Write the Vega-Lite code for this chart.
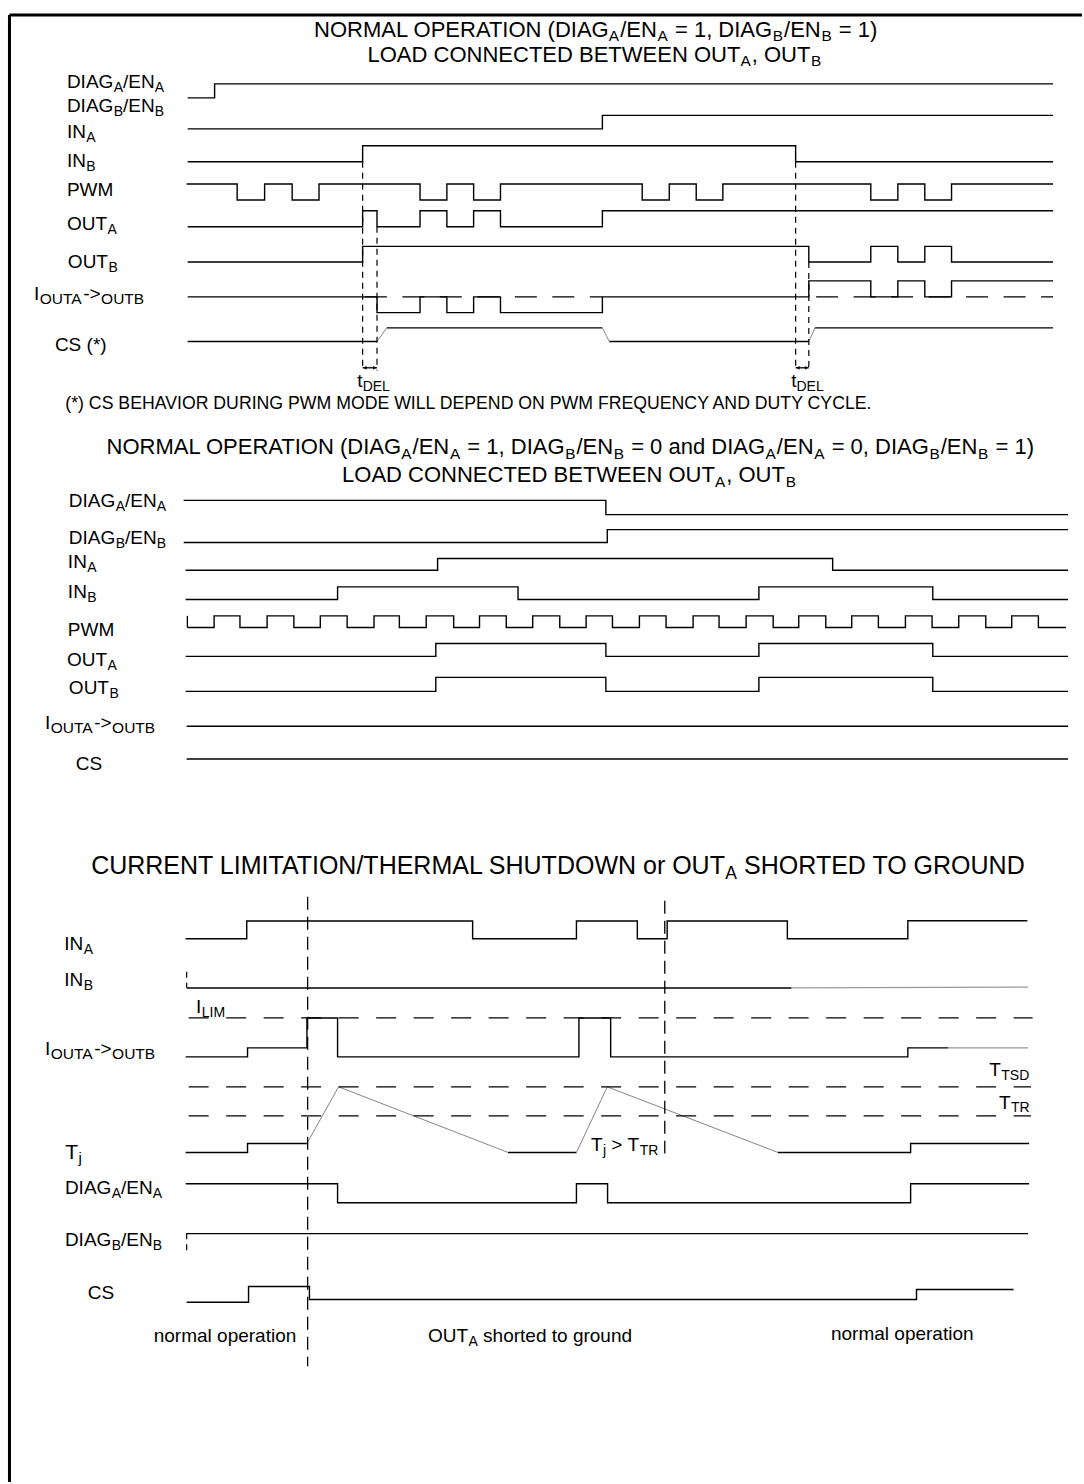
{
"$schema": "https://vega.github.io/schema/vega-lite/v6.json",
"width": 1084, "height": 1484, "padding": 0,
"autosize": {"type": "fit", "contains": "padding"},
"background": "white",
"config": {"view": {"stroke": null}},
"encoding": {
 "x": {"field": "x", "type": "quantitative", "scale": {"domain": [0, 1084], "nice": false, "zero": false}, "axis": null},
 "y": {"field": "y", "type": "quantitative", "scale": {"domain": [0, 1484], "nice": false, "zero": false, "reverse": true}, "axis": null}
},
"datasets": {
 "frame": [{"x": 9.5, "y": 15, "x2": 1084, "y2": 15}, {"x": 9.5, "y": 15, "x2": 9.5, "y2": 1484}],
 "steps": [
  {"s":"1DA","x":188,"y":98},{"s":"1DA","x":215,"y":84},{"s":"1DA","x":1055,"y":84},
  {"s":"1IA","x":188,"y":129},{"s":"1IA","x":603.5,"y":115.5},{"s":"1IA","x":1055,"y":115.5},
  {"s":"1IB","x":188,"y":162},{"s":"1IB","x":363.3,"y":146},{"s":"1IB","x":797.1,"y":162},{"s":"1IB","x":1055,"y":162},
  {"s":"1PW","x":187,"y":184.3},{"s":"1PW","x":237.6,"y":200.3},{"s":"1PW","x":265.1,"y":184.3},{"s":"1PW","x":292.7,"y":200.3},{"s":"1PW","x":319.6,"y":184.3},{"s":"1PW","x":420.8,"y":200.3},{"s":"1PW","x":447.7,"y":184.3},{"s":"1PW","x":474.5,"y":200.3},{"s":"1PW","x":501.4,"y":184.3},{"s":"1PW","x":643.4,"y":200.3},{"s":"1PW","x":670.5,"y":184.3},{"s":"1PW","x":697.5,"y":200.3},{"s":"1PW","x":724.2,"y":184.3},{"s":"1PW","x":872.4,"y":200.3},{"s":"1PW","x":899.5,"y":184.3},{"s":"1PW","x":926.5,"y":200.3},{"s":"1PW","x":953.3,"y":184.3},{"s":"1PW","x":1055,"y":184.3},
  {"s":"1OA","x":188,"y":227},{"s":"1OA","x":363.3,"y":211},{"s":"1OA","x":377.7,"y":227},{"s":"1OA","x":420.8,"y":211},{"s":"1OA","x":447.7,"y":227},{"s":"1OA","x":474.5,"y":211},{"s":"1OA","x":501.4,"y":227},{"s":"1OA","x":603.5,"y":211},{"s":"1OA","x":1055,"y":211},
  {"s":"1OB","x":188,"y":262.3},{"s":"1OB","x":363.3,"y":246.7},{"s":"1OB","x":810.3,"y":262.3},{"s":"1OB","x":872.4,"y":246.7},{"s":"1OB","x":899.5,"y":262.3},{"s":"1OB","x":926.5,"y":246.7},{"s":"1OB","x":953.3,"y":262.3},{"s":"1OB","x":1055,"y":262.3},
  {"s":"1IO","x":188,"y":297.3},{"s":"1IO","x":377.7,"y":313},{"s":"1IO","x":420.8,"y":297.3},{"s":"1IO","x":447.7,"y":313},{"s":"1IO","x":474.5,"y":297.3},{"s":"1IO","x":501.4,"y":313},{"s":"1IO","x":603.5,"y":297.3},{"s":"1IO","x":810.3,"y":281.3},{"s":"1IO","x":872.4,"y":297.3},{"s":"1IO","x":899.5,"y":281.3},{"s":"1IO","x":926.5,"y":297.3},{"s":"1IO","x":953.3,"y":281.3},{"s":"1IO","x":1055,"y":281.3},
  {"s":"1Ca","x":188,"y":342},{"s":"1Ca","x":377.7,"y":342},
  {"s":"1Cb","x":387.4,"y":328.3},{"s":"1Cb","x":603.5,"y":328.3},
  {"s":"1Cc","x":610.4,"y":342},{"s":"1Cc","x":810.3,"y":342},
  {"s":"1Cd","x":816.5,"y":328.3},{"s":"1Cd","x":1055,"y":328.3},
  {"s":"2DA","x":184,"y":501},{"s":"2DA","x":607,"y":515.3},{"s":"2DA","x":1070,"y":515.3},
  {"s":"2DB","x":184,"y":543.3},{"s":"2DB","x":608.4,"y":530.3},{"s":"2DB","x":1070,"y":530.3},
  {"s":"2IA","x":186,"y":571},{"s":"2IA","x":438.4,"y":559.3},{"s":"2IA","x":834.2,"y":571},{"s":"2IA","x":1070,"y":571},
  {"s":"2IB","x":186,"y":600.3},{"s":"2IB","x":338.2,"y":587.7},{"s":"2IB","x":519,"y":600.3},{"s":"2IB","x":760.3,"y":587.7},{"s":"2IB","x":934.5,"y":600.3},{"s":"2IB","x":1070,"y":600.3},
  {"s":"2PW","x":187.7,"y":628.3},{"s":"2PW","x":214.5,"y":616.7},{"s":"2PW","x":240.4,"y":628.3},{"s":"2PW","x":267.6,"y":616.7},{"s":"2PW","x":294.4,"y":628.3},{"s":"2PW","x":320.9,"y":616.7},{"s":"2PW","x":347.8,"y":628.3},{"s":"2PW","x":374.7,"y":616.7},{"s":"2PW","x":400.1,"y":628.3},{"s":"2PW","x":427,"y":616.7},{"s":"2PW","x":454.5,"y":628.3},{"s":"2PW","x":480.4,"y":616.7},{"s":"2PW","x":507.2,"y":628.3},{"s":"2PW","x":533.7,"y":616.7},{"s":"2PW","x":560.8,"y":628.3},{"s":"2PW","x":587.2,"y":616.7},{"s":"2PW","x":613.6,"y":628.3},{"s":"2PW","x":640.6,"y":616.7},{"s":"2PW","x":667.3,"y":628.3},{"s":"2PW","x":694.4,"y":616.7},{"s":"2PW","x":720.4,"y":628.3},{"s":"2PW","x":747.5,"y":616.7},{"s":"2PW","x":774.6,"y":628.3},{"s":"2PW","x":800.2,"y":616.7},{"s":"2PW","x":827.3,"y":628.3},{"s":"2PW","x":853.3,"y":616.7},{"s":"2PW","x":880,"y":628.3},{"s":"2PW","x":907.1,"y":616.7},{"s":"2PW","x":933.8,"y":628.3},{"s":"2PW","x":960.5,"y":616.7},{"s":"2PW","x":987.6,"y":628.3},{"s":"2PW","x":1013.6,"y":616.7},{"s":"2PW","x":1040.3,"y":628.3},{"s":"2PW","x":1068,"y":628.3},
  {"s":"2OA","x":186,"y":657.3},{"s":"2OA","x":436.6,"y":644.3},{"s":"2OA","x":607,"y":657.3},{"s":"2OA","x":760.3,"y":644.3},{"s":"2OA","x":934.5,"y":657.3},{"s":"2OA","x":1070,"y":657.3},
  {"s":"2OB","x":186,"y":692.3},{"s":"2OB","x":436.6,"y":678.3},{"s":"2OB","x":607,"y":692.3},{"s":"2OB","x":760.3,"y":678.3},{"s":"2OB","x":934.5,"y":692.3},{"s":"2OB","x":1070,"y":692.3},
  {"s":"2IO","x":187,"y":727.3},{"s":"2IO","x":1070,"y":727.3},
  {"s":"2CS","x":187,"y":760},{"s":"2CS","x":1070,"y":760},
  {"s":"3IA","x":186,"y":940},{"s":"3IA","x":247.2,"y":922.3},{"s":"3IA","x":473.5,"y":940},{"s":"3IA","x":577.5,"y":922.3},{"s":"3IA","x":638.5,"y":940},{"s":"3IA","x":668.4,"y":922.3},{"s":"3IA","x":788.8,"y":940},{"s":"3IA","x":909.5,"y":922},{"s":"3IA","x":1029.3,"y":922},
  {"s":"3IB","x":187,"y":989.3},{"s":"3IB","x":793,"y":989.3},
  {"s":"3IO","x":186,"y":1058.3},{"s":"3IO","x":248,"y":1049.3},{"s":"3IO","x":307.5,"y":1019.3},{"s":"3IO","x":338.2,"y":1058.3},{"s":"3IO","x":580,"y":1019.3},{"s":"3IO","x":611.8,"y":1058.3},{"s":"3IO","x":909.5,"y":1049.3},{"s":"3IO","x":950,"y":1049.3},
  {"s":"3Ta","x":186,"y":1154},{"s":"3Ta","x":248,"y":1145},{"s":"3Ta","x":307.5,"y":1145},
  {"s":"3Tb","x":509,"y":1154},{"s":"3Tb","x":577.5,"y":1154},
  {"s":"3Tc","x":779.4,"y":1154},{"s":"3Tc","x":912.3,"y":1145},{"s":"3Tc","x":1031,"y":1145},
  {"s":"3DA","x":186,"y":1185.3},{"s":"3DA","x":338.2,"y":1204.3},{"s":"3DA","x":577.5,"y":1185.3},{"s":"3DA","x":608.7,"y":1204.3},{"s":"3DA","x":912.3,"y":1185.3},{"s":"3DA","x":1031,"y":1185.3},
  {"s":"3DB","x":187,"y":1235.3},{"s":"3DB","x":1030,"y":1235.3},
  {"s":"3CS","x":187,"y":1304},{"s":"3CS","x":249,"y":1288.3},{"s":"3CS","x":310,"y":1301.3},{"s":"3CS","x":918.2,"y":1291.3},{"s":"3CS","x":1015.4,"y":1291.3}
 ],
 "ramps": [
  {"s":"g1","x":377.7,"y":342},{"s":"g1","x":387.4,"y":328.3},
  {"s":"g2","x":603.5,"y":328.3},{"s":"g2","x":610.4,"y":342},
  {"s":"g3","x":810.3,"y":342},{"s":"g3","x":816.5,"y":328.3},
  {"s":"g4","x":307.5,"y":1145},{"s":"g4","x":339.2,"y":1088.3},{"s":"g4","x":509,"y":1154},
  {"s":"g5","x":577.5,"y":1154},{"s":"g5","x":608.4,"y":1088.3},{"s":"g5","x":779.4,"y":1154}
 ],
 "fade": [
  {"s":"f1","x":793,"y":989.3},{"s":"f1","x":1030,"y":988.5},
  {"s":"f2","x":950,"y":1049.3},{"s":"f2","x":1030,"y":1049.3}
 ],
 "solid": [
  {"x":187.7,"y":616.7,"x2":187.7,"y2":628.3},
  {"x":363.3,"y":368.3,"x2":377.7,"y2":368.3},
  {"x":797.1,"y":368.3,"x2":810.3,"y2":368.3}
 ],
 "heads": [
  {"x":365.6,"y":368.3,"d":"l"},{"x":375.4,"y":368.3,"d":"r"},
  {"x":799.4,"y":368.3,"d":"l"},{"x":808,"y":368.3,"d":"r"}
 ],
 "dash1": [
  {"x":365.5,"y":297.3,"x2":603.5,"y2":297.3},
  {"x":817.6,"y":297.3,"x2":1055,"y2":297.3}
 ],
 "dash3": [
  {"x":189,"y":1019.3,"x2":1034.5,"y2":1019.3},
  {"x":189,"y":1088.3,"x2":1033,"y2":1088.3},
  {"x":189,"y":1117.3,"x2":1033,"y2":1117.3}
 ],
 "vshort": [
  {"x":363.3,"y":162,"x2":363.3,"y2":371},
  {"x":377.7,"y":227,"x2":377.7,"y2":371},
  {"x":797.1,"y":162,"x2":797.1,"y2":371},
  {"x":810.3,"y":262.3,"x2":810.3,"y2":371},
  {"x":187,"y":973,"x2":187,"y2":989},
  {"x":187,"y":1235,"x2":187,"y2":1253}
 ],
 "vlong": [
  {"x":308.2,"y":898,"x2":308.2,"y2":1368},
  {"x":666,"y":902,"x2":666,"y2":1155}
 ],
 "txt": [
  {"c":"T","x":314.7,"y":37.5,"t":"NORMAL OPERATION (DIAG"},{"c":"T","x":621.3,"y":37.5,"t":"/EN"},{"c":"T","x":676.2,"y":37.5,"t":"= 1, DIAG"},{"c":"T","x":785.5,"y":37.5,"t":"/EN"},{"c":"T","x":840.3,"y":37.5,"t":"= 1)"},
  {"c":"T","x":368.2,"y":62,"t":"LOAD CONNECTED BETWEEN OUT"},{"c":"T","x":753.1,"y":62,"t":", OUT"},
  {"c":"T","x":106.7,"y":455,"t":"NORMAL OPERATION (DIAG"},{"c":"T","x":413.3,"y":455,"t":"/EN"},{"c":"T","x":468.2,"y":455,"t":"= 1, DIAG"},{"c":"T","x":577.5,"y":455,"t":"/EN"},{"c":"T","x":632.3,"y":455,"t":"= 0 and DIAG"},{"c":"T","x":778.3,"y":455,"t":"/EN"},{"c":"T","x":833.2,"y":455,"t":"= 0, DIAG"},{"c":"T","x":942.4,"y":455,"t":"/EN"},{"c":"T","x":997.3,"y":455,"t":"= 1)"},
  {"c":"T","x":342.7,"y":483,"t":"LOAD CONNECTED BETWEEN OUT"},{"c":"T","x":727.6,"y":483,"t":", OUT"},
  {"c":"Ts","x":610,"y":41,"t":"A"},{"c":"Ts","x":658.8,"y":41,"t":"A"},{"c":"Ts","x":774.2,"y":41,"t":"B"},{"c":"Ts","x":822.9,"y":41,"t":"B"},{"c":"Ts","x":741.8,"y":66,"t":"A"},{"c":"Ts","x":812.6,"y":66,"t":"B"},
  {"c":"Ts","x":402,"y":459.5,"t":"A"},{"c":"Ts","x":450.8,"y":459.5,"t":"A"},{"c":"Ts","x":566.2,"y":459.5,"t":"B"},{"c":"Ts","x":614.9,"y":459.5,"t":"B"},{"c":"Ts","x":767,"y":459.5,"t":"A"},{"c":"Ts","x":815.8,"y":459.5,"t":"A"},{"c":"Ts","x":931.2,"y":459.5,"t":"B"},{"c":"Ts","x":979.9,"y":459.5,"t":"B"},{"c":"Ts","x":716.3,"y":487.5,"t":"A"},{"c":"Ts","x":787.1,"y":487.5,"t":"B"},
  {"c":"B","x":91.3,"y":875,"t":"CURRENT LIMITATION/THERMAL SHUTDOWN or OUT"},{"c":"B","x":745.5,"y":875,"t":"SHORTED TO GROUND"},
  {"c":"Bs","x":726.7,"y":880.5,"t":"A"},
  {"c":"L","x":67,"y":88,"t":"DIAG"},{"c":"L","x":123.3,"y":88,"t":"/EN"},{"c":"L","x":67,"y":112,"t":"DIAG"},{"c":"L","x":123.3,"y":112,"t":"/EN"},{"c":"L","x":67,"y":138,"t":"IN"},{"c":"L","x":67,"y":167,"t":"IN"},{"c":"L","x":67,"y":196,"t":"PWM"},{"c":"L","x":67,"y":230,"t":"OUT"},{"c":"L","x":68,"y":268,"t":"OUT"},{"c":"L","x":34,"y":300,"t":"I"},{"c":"L","x":83.4,"y":300,"t":"->"},{"c":"L","x":55,"y":351,"t":"CS (*)"},{"c":"L","x":358,"y":388,"t":"t"},{"c":"L","x":792.6,"y":388,"t":"t"},
  {"c":"L","x":69,"y":508,"t":"DIAG"},{"c":"L","x":125.3,"y":508,"t":"/EN"},{"c":"L","x":69,"y":545,"t":"DIAG"},{"c":"L","x":125.3,"y":545,"t":"/EN"},{"c":"L","x":68,"y":569,"t":"IN"},{"c":"L","x":68,"y":599,"t":"IN"},{"c":"L","x":68,"y":637,"t":"PWM"},{"c":"L","x":67,"y":667,"t":"OUT"},{"c":"L","x":69,"y":695,"t":"OUT"},{"c":"L","x":45,"y":730,"t":"I"},{"c":"L","x":94.4,"y":730,"t":"->"},{"c":"L","x":76,"y":771,"t":"CS"},
  {"c":"L","x":64.4,"y":951,"t":"IN"},{"c":"L","x":64.4,"y":987,"t":"IN"},{"c":"L","x":196.3,"y":1014,"t":"I"},{"c":"L","x":45,"y":1056,"t":"I"},{"c":"L","x":94.4,"y":1056,"t":"->"},{"c":"L","x":991,"y":1077,"t":"T"},{"c":"L","x":1000.8,"y":1110,"t":"T"},{"c":"L","x":65,"y":1196,"t":"DIAG"},{"c":"L","x":121.3,"y":1196,"t":"/EN"},{"c":"L","x":65,"y":1248,"t":"DIAG"},{"c":"L","x":121.3,"y":1248,"t":"/EN"},{"c":"L","x":88,"y":1301,"t":"CS"},{"c":"L","x":592,"y":1153,"t":"T"},{"c":"L","x":612.5,"y":1153,"t":"> T"},{"c":"L","x":154,"y":1344,"t":"normal operation"},{"c":"L","x":428.7,"y":1344,"t":"OUT"},{"c":"L","x":484,"y":1344,"t":"shorted to ground"},{"c":"L","x":832.5,"y":1342,"t":"normal operation"},
  {"c":"Ls","x":113.9,"y":92,"t":"A"},{"c":"Ls","x":155,"y":92,"t":"A"},{"c":"Ls","x":113.9,"y":116,"t":"B"},{"c":"Ls","x":155,"y":116,"t":"B"},{"c":"Ls","x":86.5,"y":142,"t":"A"},{"c":"Ls","x":86.5,"y":171,"t":"B"},{"c":"Ls","x":107.6,"y":234,"t":"A"},{"c":"Ls","x":108.6,"y":272,"t":"B"},{"c":"Ls","x":363.3,"y":392,"t":"DEL"},{"c":"Ls","x":797.9,"y":392,"t":"DEL"},
  {"c":"Ls","x":115.9,"y":512,"t":"A"},{"c":"Ls","x":157,"y":512,"t":"A"},{"c":"Ls","x":115.9,"y":549,"t":"B"},{"c":"Ls","x":157,"y":549,"t":"B"},{"c":"Ls","x":87.5,"y":573,"t":"A"},{"c":"Ls","x":87.5,"y":603,"t":"B"},{"c":"Ls","x":107.6,"y":671,"t":"A"},{"c":"Ls","x":109.6,"y":699,"t":"B"},
  {"c":"Ls","x":83.9,"y":955,"t":"A"},{"c":"Ls","x":83.9,"y":991,"t":"B"},{"c":"Ls","x":202.1,"y":1018,"t":"LIM"},{"c":"Ls","x":1003.1,"y":1081,"t":"TSD"},{"c":"Ls","x":1012.9,"y":1114,"t":"TR"},{"c":"Ls","x":111.9,"y":1200,"t":"A"},{"c":"Ls","x":153,"y":1200,"t":"A"},{"c":"Ls","x":111.9,"y":1252,"t":"B"},{"c":"Ls","x":153,"y":1252,"t":"B"},{"c":"Ls","x":604,"y":1157,"t":"j"},{"c":"Ls","x":641,"y":1157,"t":"TR"},{"c":"Ls","x":469.3,"y":1348,"t":"A"},
  {"c":"Lm","x":39.8,"y":304,"t":"OUTA"},{"c":"Lm","x":101.3,"y":304,"t":"OUTB"},
  {"c":"Lm","x":50.8,"y":734,"t":"OUTA"},{"c":"Lm","x":112.3,"y":734,"t":"OUTB"},
  {"c":"Lm","x":50.8,"y":1060,"t":"OUTA"},{"c":"Lm","x":112.3,"y":1060,"t":"OUTB"},
  {"c":"F","x":65.4,"y":410,"t":"(*) CS BEHAVIOR DURING PWM MODE WILL DEPEND ON PWM FREQUENCY AND DUTY CYCLE."},
  {"c":"J","x":65.4,"y":1161,"t":"T"},
  {"c":"Js","x":78.7,"y":1165,"t":"j"}
 ]
},
"layer": [
 {"data": {"name": "frame"}, "mark": {"type": "rule", "color": "black", "strokeWidth": 3}, "encoding": {"x2": {"field": "x2"}, "y2": {"field": "y2"}}},
 {"data": {"name": "steps"}, "mark": {"type": "line", "interpolate": "step-after", "color": "black", "strokeWidth": 1.4}, "encoding": {"detail": {"field": "s"}}},
 {"data": {"name": "ramps"}, "mark": {"type": "line", "color": "#777777", "strokeWidth": 0.9}, "encoding": {"detail": {"field": "s"}}},
 {"data": {"name": "fade"}, "mark": {"type": "line", "color": "#999999", "strokeWidth": 1.2}, "encoding": {"detail": {"field": "s"}}},
 {"data": {"name": "solid"}, "mark": {"type": "rule", "color": "black", "strokeWidth": 1.3}, "encoding": {"x2": {"field": "x2"}, "y2": {"field": "y2"}}},
 {"data": {"name": "heads"}, "mark": {"type": "point", "filled": true, "color": "black", "size": 14, "opacity": 1}, "encoding": {"shape": {"field": "d", "type": "nominal", "scale": {"domain": ["l", "r"], "range": ["triangle-left", "triangle-right"]}, "legend": null}}},
 {"data": {"name": "dash1"}, "mark": {"type": "rule", "color": "black", "strokeWidth": 1.3, "strokeDash": [22, 15.5]}, "encoding": {"x2": {"field": "x2"}, "y2": {"field": "y2"}}},
 {"data": {"name": "dash3"}, "mark": {"type": "rule", "color": "black", "strokeWidth": 1.3, "strokeDash": [20, 17.5]}, "encoding": {"x2": {"field": "x2"}, "y2": {"field": "y2"}}},
 {"data": {"name": "vshort"}, "mark": {"type": "rule", "color": "black", "strokeWidth": 1.2, "strokeDash": [6, 5]}, "encoding": {"x2": {"field": "x2"}, "y2": {"field": "y2"}}},
 {"data": {"name": "vlong"}, "mark": {"type": "rule", "color": "black", "strokeWidth": 1.3, "strokeDash": [13, 7]}, "encoding": {"x2": {"field": "x2"}, "y2": {"field": "y2"}}},
 {"data": {"name": "txt"}, "transform": [{"filter": "datum.c === 'T'"}], "mark": {"type": "text", "align": "left", "baseline": "alphabetic", "font": "Liberation Sans", "fontSize": 22, "color": "black"}, "encoding": {"text": {"field": "t"}}},
 {"data": {"name": "txt"}, "transform": [{"filter": "datum.c === 'Ts'"}], "mark": {"type": "text", "align": "left", "baseline": "alphabetic", "font": "Liberation Sans", "fontSize": 15.4, "color": "black"}, "encoding": {"text": {"field": "t"}}},
 {"data": {"name": "txt"}, "transform": [{"filter": "datum.c === 'B'"}], "mark": {"type": "text", "align": "left", "baseline": "alphabetic", "font": "Liberation Sans", "fontSize": 25, "color": "black"}, "encoding": {"text": {"field": "t"}}},
 {"data": {"name": "txt"}, "transform": [{"filter": "datum.c === 'Bs'"}], "mark": {"type": "text", "align": "left", "baseline": "alphabetic", "font": "Liberation Sans", "fontSize": 17.5, "color": "black"}, "encoding": {"text": {"field": "t"}}},
 {"data": {"name": "txt"}, "transform": [{"filter": "datum.c === 'L'"}], "mark": {"type": "text", "align": "left", "baseline": "alphabetic", "font": "Liberation Sans", "fontSize": 19, "color": "black"}, "encoding": {"text": {"field": "t"}}},
 {"data": {"name": "txt"}, "transform": [{"filter": "datum.c === 'Ls'"}], "mark": {"type": "text", "align": "left", "baseline": "alphabetic", "font": "Liberation Sans", "fontSize": 14, "color": "black"}, "encoding": {"text": {"field": "t"}}},
 {"data": {"name": "txt"}, "transform": [{"filter": "datum.c === 'Lm'"}], "mark": {"type": "text", "align": "left", "baseline": "alphabetic", "font": "Liberation Sans", "fontSize": 15.5, "color": "black"}, "encoding": {"text": {"field": "t"}}},
 {"data": {"name": "txt"}, "transform": [{"filter": "datum.c === 'F'"}], "mark": {"type": "text", "align": "left", "baseline": "alphabetic", "font": "Liberation Sans", "fontSize": 17.7, "color": "black"}, "encoding": {"text": {"field": "t"}}},
 {"data": {"name": "txt"}, "transform": [{"filter": "datum.c === 'J'"}], "mark": {"type": "text", "align": "left", "baseline": "alphabetic", "font": "Liberation Sans", "fontSize": 21, "color": "black"}, "encoding": {"text": {"field": "t"}}},
 {"data": {"name": "txt"}, "transform": [{"filter": "datum.c === 'Js'"}], "mark": {"type": "text", "align": "left", "baseline": "alphabetic", "font": "Liberation Sans", "fontSize": 15, "color": "black"}, "encoding": {"text": {"field": "t"}}}
]
}
